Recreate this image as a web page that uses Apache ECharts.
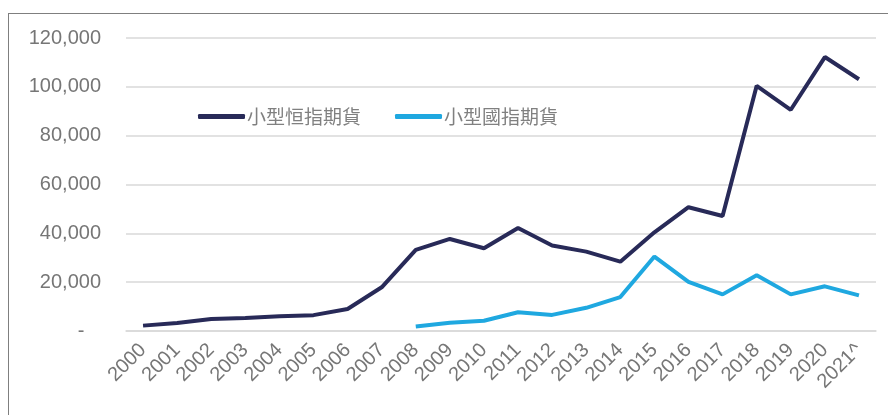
<!DOCTYPE html>
<html>
<head>
<meta charset="utf-8">
<script src="https://cdn.jsdelivr.net/npm/echarts@6/dist/echarts.min.js"></script>
<style>
  html, body { margin: 0; padding: 0; background: #fff; overflow: hidden; }
  #chart { position: absolute; left: 0; top: 0; width: 888px; height: 415px; }
  .frame { position: absolute; left: 8px; top: 13px; width: 900px; height: 420px; border: 1px solid #7f7f7f; pointer-events: none; }
</style>
</head>
<body>
<div id="chart"></div>
<div class="frame"></div>
<script>
// 年份
var years = ['2000', '2001', '2002', '2003', '2004', '2005', '2006', '2007', '2008', '2009', '2010',
  '2011', '2012', '2013', '2014', '2015', '2016', '2017', '2018', '2019', '2020', '2021^']
// 小型恒指期貨
var miniHsi = [2200, 3300, 4900, 5300, 6000, 6500, 9000, 17900, 33200, 37700, 33900,
  42200, 35000, 32500, 28400, 40400, 50700, 47100, 100400, 90600, 112200, 103100]
// 小型國指期貨 (2008 起)
var miniHhi = [null, null, null, null, null, null, null, null, 1800, 3400, 4200,
  7700, 6600, 9500, 13900, 30500, 20100, 15000, 22800, 15000, 18300, 14600]

var chartDom = document.getElementById('chart')
var myChart = echarts.init(chartDom)
var fontFamily = '"Liberation Sans", Arial, "Noto Sans CJK TC", sans-serif'

var option = {
  animation: false,
  textStyle: { fontFamily: fontFamily },
  legend: {
    left: 193,
    top: 102,
    itemWidth: 47,
    itemHeight: 5,
    itemGap: 34,
    icon: 'roundRect',
    textStyle: { fontSize: 19, color: '#808080', fontFamily: '"Noto Sans CJK TC", sans-serif', padding: [0, 0, 0, -3] },
    data: ['小型恒指期貨', '小型國指期貨']
  },
  grid: {
    left: 126,
    right: 12,
    top: 38,
    bottom: 84,
    containLabel: false
  },
  xAxis: {
    type: 'category',
    data: years,
    boundaryGap: true,
    axisLine: { lineStyle: { color: '#d9d9d9', width: 1.5 } },
    axisTick: { show: false },
    axisLabel: {
      rotate: 45,
      interval: 0,
      margin: 16,
      fontSize: 20,
      color: '#767676'
    }
  },
  yAxis: {
    type: 'value',
    min: 0,
    max: 120000,
    interval: 20000,
    axisLine: { show: false },
    axisTick: { show: false },
    splitLine: { lineStyle: { color: '#d9d9d9', width: 1.5 } },
    axisLabel: {
      margin: 25,
      fontSize: 20,
      color: '#767676',
      formatter: function (v) {
        if (v === 0) return '-   '
        return v.toString().replace(/\B(?=(\d{3})+(?!\d))/g, ',')
      }
    }
  },
  series: [
    {
      name: '小型恒指期貨',
      type: 'line',
      data: miniHsi,
      symbol: 'none',
      color: '#282a58',
      lineStyle: { width: 4, color: '#282a58' }
    },
    {
      name: '小型國指期貨',
      type: 'line',
      data: miniHhi,
      symbol: 'none',
      connectNulls: false,
      color: '#1fa8e0',
      lineStyle: { width: 4, color: '#1fa8e0' }
    }
  ]
}

option && myChart.setOption(option)

window.addEventListener('resize', function () {
  myChart.resize()
})
</script>
</body>
</html>
